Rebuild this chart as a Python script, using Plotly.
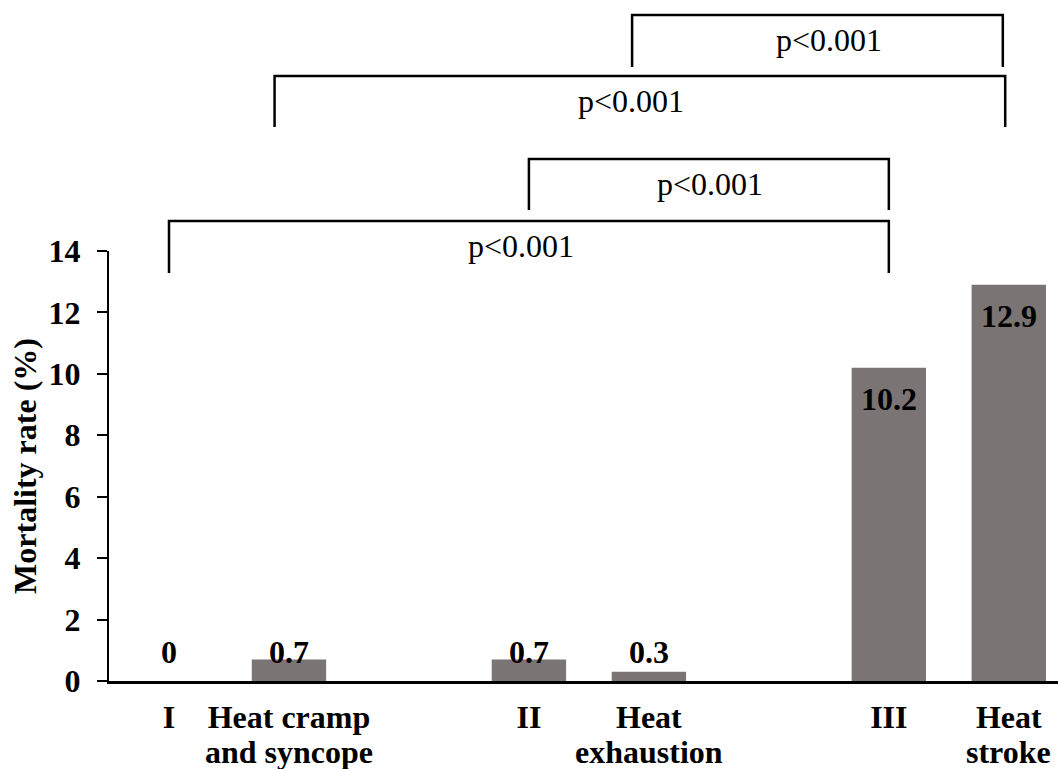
import plotly.graph_objects as go

# ---------------- data ----------------
cat_line1 = ["I", "Heat cramp", "II", "Heat", "III", "Heat"]
cat_line2 = ["", "and syncope", "", "exhaustion", "", "stroke"]
positions = [0, 1, 3, 4, 6, 7]
mortality = [0, 0.7, 0.7, 0.3, 10.2, 12.9]
value_labels = ["0", "0.7", "0.7", "0.3", "10.2", "12.9"]
y_ticks = [0, 2, 4, 6, 8, 10, 12, 14]

# significance comparisons: start, end (x positions), label
cmp_start = [0, 3, 0.88, 3.86]
cmp_end = [6, 6, 6.97, 6.95]
cmp_label = ["p<0.001", "p<0.001", "p<0.001", "p<0.001"]
cmp_label_x = [2.93, 4.51, 3.85, 5.5]

# ---------------- style ----------------
FONT = "Liberation Serif, Times New Roman, serif"
FS = 32
BAR_COLOR = "#7b7475"
W, H = 1058, 769
M_L, M_R, M_T, M_B = 109, 0, 251, 88
PLOT_H = H - M_T - M_B

# bracket geometry in pixel rows (top of line, bottom of legs)
bracket_line_px = [221, 159, 76, 15]
bracket_leg_px = [273, 210, 127, 67]


def px_to_paper(py):
    return (H - M_B - py) / PLOT_H


fig = go.Figure()
fig.add_trace(go.Bar(
    x=positions, y=mortality, width=0.62,
    marker=dict(color=BAR_COLOR, line=dict(width=0)),
    hoverinfo="skip",
))

# value labels
for xp, v, lab in zip(positions, mortality, value_labels):
    if v < 5:
        fig.add_annotation(x=xp, y=0.93, xref="x", yref="y", text=f"<b>{lab}</b>",
                           showarrow=False, yanchor="middle",
                           font=dict(family=FONT, size=FS, color="black"))
    else:
        fig.add_annotation(x=xp, y=v, xref="x", yref="y", text=f"<b>{lab}</b>",
                           showarrow=False, yanchor="top", yshift=-11,
                           font=dict(family=FONT, size=FS, color="black"))

# second lines of category labels
for xp, lab in zip(positions, cat_line2):
    if lab:
        fig.add_annotation(x=xp, y=0, xref="x", yref="paper", text=f"<b>{lab}</b>",
                           showarrow=False, yanchor="top", yshift=-52,
                           borderpad=0,
                           font=dict(family=FONT, size=FS, color="black"))

# significance brackets
for s, e, lab, lx, ly, leg in zip(cmp_start, cmp_end, cmp_label, cmp_label_x,
                                  bracket_line_px, bracket_leg_px):
    yl = px_to_paper(ly)
    yb = px_to_paper(leg)
    fig.add_shape(type="path", xref="x", yref="paper",
                  path=f"M {s} {yb} L {s} {yl} L {e} {yl} L {e} {yb}",
                  line=dict(color="black", width=2.5))
    fig.add_annotation(x=lx, y=yl, xref="x", yref="paper", text=lab,
                       showarrow=False, yanchor="top", yshift=-5,
                       font=dict(family=FONT, size=FS, color="black"))

fig.update_layout(
    width=W, height=H,
    margin=dict(l=M_L, r=M_R, t=M_T, b=M_B),
    plot_bgcolor="white", paper_bgcolor="white",
    showlegend=False,
    font=dict(family=FONT, size=FS, color="black"),
    xaxis=dict(
        range=[-0.5, 7.41], tickmode="array", tickvals=positions,
        ticktext=[f"<b>{c}</b>" for c in cat_line1],
        showline=True, linecolor="black", linewidth=3,
        ticks="", showgrid=False, zeroline=False,
        tickfont=dict(family=FONT, size=FS, color="black"),
        ticklabelstandoff=6,
    ),
    yaxis=dict(
        range=[0, 14], tickmode="array", tickvals=y_ticks,
        ticktext=[f"<b>{t}</b>" for t in y_ticks],
        showline=True, linecolor="black", linewidth=2,
        ticks="outside", ticklen=10, tickwidth=2, tickcolor="black",
        showgrid=False, zeroline=False,
        tickfont=dict(family=FONT, size=FS, color="black"),
        ticklabelstandoff=10,
        title=dict(text="<b>Mortality rate (%)</b>",
                   font=dict(family=FONT, size=FS, color="black"), standoff=2),
    ),
)

fig.write_html("out.html")
